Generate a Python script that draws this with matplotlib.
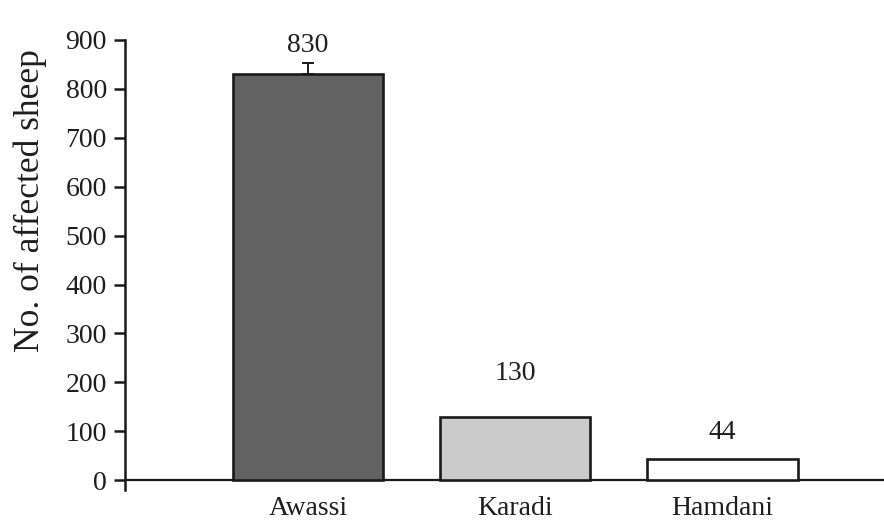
import matplotlib.pyplot as plt

# breeds and counts of affected sheep
breeds = ["Awassi", "Karadi", "Hamdani"]
counts = [830, 130, 44]
err_up = [22, 0, 0]
bar_colors = ["#626262", "#cbcbcb", "#ffffff"]

plt.rcParams['font.family'] = ['Liberation Serif', 'DejaVu Serif']

fig = plt.figure(figsize=(8.84, 5.24), dpi=100)
ax = fig.add_axes([125 / 884, 34 / 524, 759 / 884, 450 / 524])

x = list(range(len(breeds)))
ax.bar(x, counts, width=0.725, color=bar_colors, edgecolor="#1a1a1a", linewidth=1.9, zorder=2)

# upper error bar on Awassi only
ax.errorbar(x[0], counts[0], yerr=[[0], [err_up[0]]], fmt="none", ecolor="#1a1a1a",
            elinewidth=1.4, capsize=4, capthick=1.4, zorder=3)

# value labels above bars
offsets = [58, 88, 54]
for xi, c, off in zip(x, counts, offsets):
    ax.text(xi, c + off, str(c), ha="center", va="center", fontsize=20, color="#1e1e1e")

ax.set_xlim(-0.884, 2.78)
ax.set_ylim(-20, 900)
ax.set_yticks(range(0, 901, 100))
ax.set_xticks(x)
ax.set_xticklabels(breeds)

ax.axhline(0, color="#1a1a1a", linewidth=1.6, zorder=1)
for s in ["top", "right", "bottom"]:
    ax.spines[s].set_visible(False)
ax.spines["left"].set_linewidth(1.8)
ax.spines["left"].set_color("#1a1a1a")

ax.tick_params(axis="y", direction="out", length=8, width=1.8, color="#1a1a1a",
               labelsize=20, labelcolor="#1e1e1e", pad=5)
ax.tick_params(axis="x", length=0, labelsize=20, labelcolor="#1e1e1e", pad=4)

ax.set_ylabel("No. of affected sheep", fontsize=25.5, color="#1e1e1e")
ax.yaxis.set_label_coords(-0.103, 0.644)

fig.savefig("out.png", dpi=100)
